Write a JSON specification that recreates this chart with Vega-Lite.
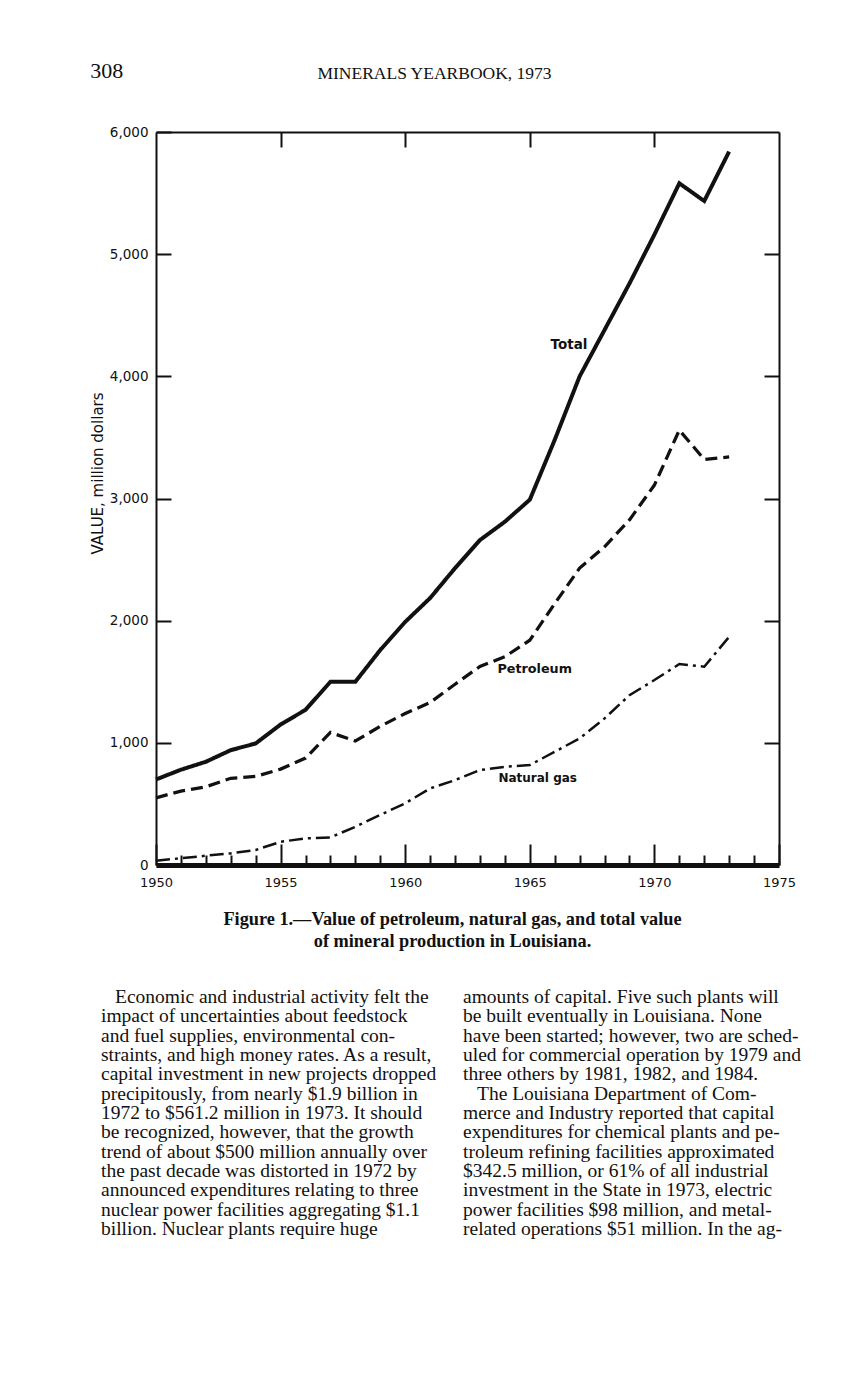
{
  "$schema": "https://vega.github.io/schema/vega-lite/v6.json",
  "background": "white",
  "padding": {"left": 90, "top": 60, "right": 0, "bottom": 0},
  "title": {"text": "308", "anchor": "start", "frame": "bounds", "font": "Liberation Serif", "fontSize": 22, "fontWeight": "normal", "color": "#111", "baseline": "alphabetic", "offset": -36},
  "bounds": "flush",
  "spacing": 132,
  "datasets": {
    "series": [
      {"series": "Total", "year": 1950, "value": 700},
      {"series": "Total", "year": 1951, "value": 780},
      {"series": "Total", "year": 1952, "value": 845},
      {"series": "Total", "year": 1953, "value": 940},
      {"series": "Total", "year": 1954, "value": 995},
      {"series": "Total", "year": 1955, "value": 1150},
      {"series": "Total", "year": 1956, "value": 1270},
      {"series": "Total", "year": 1957, "value": 1500},
      {"series": "Total", "year": 1958, "value": 1500},
      {"series": "Total", "year": 1959, "value": 1760},
      {"series": "Total", "year": 1960, "value": 1990},
      {"series": "Total", "year": 1961, "value": 2185},
      {"series": "Total", "year": 1962, "value": 2430},
      {"series": "Total", "year": 1963, "value": 2660},
      {"series": "Total", "year": 1964, "value": 2810},
      {"series": "Total", "year": 1965, "value": 2990},
      {"series": "Total", "year": 1966, "value": 3480},
      {"series": "Total", "year": 1967, "value": 4000},
      {"series": "Total", "year": 1968, "value": 4380},
      {"series": "Total", "year": 1969, "value": 4760},
      {"series": "Total", "year": 1970, "value": 5160},
      {"series": "Total", "year": 1971, "value": 5580},
      {"series": "Total", "year": 1972, "value": 5435},
      {"series": "Total", "year": 1973, "value": 5840},
      {"series": "Petroleum", "year": 1950, "value": 550},
      {"series": "Petroleum", "year": 1951, "value": 605},
      {"series": "Petroleum", "year": 1952, "value": 640},
      {"series": "Petroleum", "year": 1953, "value": 710},
      {"series": "Petroleum", "year": 1954, "value": 725},
      {"series": "Petroleum", "year": 1955, "value": 785},
      {"series": "Petroleum", "year": 1956, "value": 875},
      {"series": "Petroleum", "year": 1957, "value": 1085},
      {"series": "Petroleum", "year": 1958, "value": 1015},
      {"series": "Petroleum", "year": 1959, "value": 1135},
      {"series": "Petroleum", "year": 1960, "value": 1240},
      {"series": "Petroleum", "year": 1961, "value": 1330},
      {"series": "Petroleum", "year": 1962, "value": 1480},
      {"series": "Petroleum", "year": 1963, "value": 1625},
      {"series": "Petroleum", "year": 1964, "value": 1705},
      {"series": "Petroleum", "year": 1965, "value": 1840},
      {"series": "Petroleum", "year": 1966, "value": 2140},
      {"series": "Petroleum", "year": 1967, "value": 2430},
      {"series": "Petroleum", "year": 1968, "value": 2605},
      {"series": "Petroleum", "year": 1969, "value": 2825},
      {"series": "Petroleum", "year": 1970, "value": 3110},
      {"series": "Petroleum", "year": 1971, "value": 3560},
      {"series": "Petroleum", "year": 1972, "value": 3320},
      {"series": "Petroleum", "year": 1973, "value": 3340},
      {"series": "Natural gas", "year": 1950, "value": 35},
      {"series": "Natural gas", "year": 1951, "value": 55},
      {"series": "Natural gas", "year": 1952, "value": 76},
      {"series": "Natural gas", "year": 1953, "value": 95},
      {"series": "Natural gas", "year": 1954, "value": 123},
      {"series": "Natural gas", "year": 1955, "value": 190},
      {"series": "Natural gas", "year": 1956, "value": 218},
      {"series": "Natural gas", "year": 1957, "value": 226},
      {"series": "Natural gas", "year": 1958, "value": 313},
      {"series": "Natural gas", "year": 1959, "value": 410},
      {"series": "Natural gas", "year": 1960, "value": 505},
      {"series": "Natural gas", "year": 1961, "value": 627},
      {"series": "Natural gas", "year": 1962, "value": 695},
      {"series": "Natural gas", "year": 1963, "value": 777},
      {"series": "Natural gas", "year": 1964, "value": 804},
      {"series": "Natural gas", "year": 1965, "value": 818},
      {"series": "Natural gas", "year": 1966, "value": 927},
      {"series": "Natural gas", "year": 1967, "value": 1036},
      {"series": "Natural gas", "year": 1968, "value": 1200},
      {"series": "Natural gas", "year": 1969, "value": 1390},
      {"series": "Natural gas", "year": 1970, "value": 1514},
      {"series": "Natural gas", "year": 1971, "value": 1645},
      {"series": "Natural gas", "year": 1972, "value": 1623},
      {"series": "Natural gas", "year": 1973, "value": 1868}
    ],
    "labels": [
      {"label": "Total", "year": 1965.83, "value": 4256},
      {"label": "Petroleum", "year": 1963.7, "value": 1604},
      {"label": "Natural gas", "year": 1963.74, "value": 712}
    ],
    "body": [
      {"col": "L", "line": 1, "text": "Economic and industrial activity felt the"},
      {"col": "L", "line": 2, "text": "impact of uncertainties about feedstock"},
      {"col": "L", "line": 3, "text": "and fuel supplies, environmental con-"},
      {"col": "L", "line": 4, "text": "straints, and high money rates. As a result,"},
      {"col": "L", "line": 5, "text": "capital investment in new projects dropped"},
      {"col": "L", "line": 6, "text": "precipitously, from nearly $1.9 billion in"},
      {"col": "L", "line": 7, "text": "1972 to $561.2 million in 1973. It should"},
      {"col": "L", "line": 8, "text": "be recognized, however, that the growth"},
      {"col": "L", "line": 9, "text": "trend of about $500 million annually over"},
      {"col": "L", "line": 10, "text": "the past decade was distorted in 1972 by"},
      {"col": "L", "line": 11, "text": "announced expenditures relating to three"},
      {"col": "L", "line": 12, "text": "nuclear power facilities aggregating $1.1"},
      {"col": "L", "line": 13, "text": "billion. Nuclear plants require huge"},
      {"col": "R", "line": 1, "text": "amounts of capital. Five such plants will"},
      {"col": "R", "line": 2, "text": "be built eventually in Louisiana. None"},
      {"col": "R", "line": 3, "text": "have been started; however, two are sched-"},
      {"col": "R", "line": 4, "text": "uled for commercial operation by 1979 and"},
      {"col": "R", "line": 5, "text": "three others by 1981, 1982, and 1984."},
      {"col": "R", "line": 6, "text": "The Louisiana Department of Com-"},
      {"col": "R", "line": 7, "text": "merce and Industry reported that capital"},
      {"col": "R", "line": 8, "text": "expenditures for chemical plants and pe-"},
      {"col": "R", "line": 9, "text": "troleum refining facilities approximated"},
      {"col": "R", "line": 10, "text": "$342.5 million, or 61% of all industrial"},
      {"col": "R", "line": 11, "text": "investment in the State in 1973, electric"},
      {"col": "R", "line": 12, "text": "power facilities $98 million, and metal-"},
      {"col": "R", "line": 13, "text": "related operations $51 million. In the ag-"}
    ]
  },
  "vconcat": [
    {
      "width": 623,
      "height": 733,
      "layer": [
        {
          "data": {"name": "series"},
          "mark": {"type": "line", "color": "#111", "strokeCap": "butt", "strokeJoin": "miter"},
          "encoding": {
            "x": {
              "field": "year", "type": "quantitative",
              "scale": {"domain": [1950, 1975], "nice": false, "zero": false},
              "axis": {
                "orient": "bottom",
                "values": [1950, 1951, 1952, 1953, 1954, 1955, 1956, 1957, 1958, 1959, 1960, 1961, 1962, 1963, 1964, 1965, 1966, 1967, 1968, 1969, 1970, 1971, 1972, 1973, 1974, 1975],
                "format": "d",
                "labelExpr": "datum.value % 5 === 0 ? datum.label : ''",
                "labelFont": "DejaVu Sans", "labelFontSize": 13, "labelColor": "#111",
                "labelFlush": false, "labelOverlap": false, "labelPadding": 32,
                "tickSize": {"condition": {"test": "datum.value % 5 === 0", "value": -21}, "value": -10},
                "tickWidth": 2, "tickColor": "#111",
                "domainWidth": 5, "domainColor": "#111", "grid": false,
                "title": ["Figure 1.—Value of petroleum, natural gas, and total value", "of mineral production in Louisiana."],
                "titleFont": "Liberation Serif", "titleFontSize": 18.3, "titleFontWeight": "bold", "titleColor": "#111",
                "titlePadding": 10, "titleLineHeight": 22, "titleX": 296
              }
            },
            "y": {
              "field": "value", "type": "quantitative",
              "scale": {"domain": [0, 6000], "nice": false},
              "axis": {
                "orient": "left",
                "values": [0, 1000, 2000, 3000, 4000, 5000, 6000],
                "format": ",d",
                "labelFont": "DejaVu Sans", "labelFontSize": 13.5, "labelColor": "#111", "labelPadding": 23,
                "tickSize": -15, "tickWidth": 2, "tickColor": "#111",
                "domainWidth": 2, "domainColor": "#111", "grid": false,
                "title": "VALUE, million dollars",
                "titleFont": "DejaVu Sans", "titleFontSize": 15, "titleFontWeight": "normal", "titleColor": "#111",
                "titlePadding": 4, "titleY": 341
              }
            },
            "strokeDash": {"field": "series", "type": "nominal", "scale": {"domain": ["Total", "Petroleum", "Natural gas"], "range": [[1, 0], [12, 6], [14, 5, 3, 5]]}, "legend": null},
            "strokeWidth": {"field": "series", "type": "nominal", "scale": {"domain": ["Total", "Petroleum", "Natural gas"], "range": [4, 2.5, 2]}, "legend": null}
          }
        },
        {
          "data": {"name": "labels"},
          "mark": {"type": "text", "align": "left", "baseline": "middle", "font": "DejaVu Sans", "fontWeight": "bold", "color": "#111"},
          "encoding": {
            "x": {
              "field": "year", "type": "quantitative",
              "axis": {
                "orient": "top", "values": [1955, 1960, 1965, 1970], "labels": false,
                "tickSize": -15, "tickWidth": 2, "tickColor": "#111",
                "domainWidth": 2, "domainColor": "#111", "grid": false,
                "title": "MINERALS YEARBOOK, 1973",
                "titleFont": "Liberation Serif", "titleFontSize": 17.5, "titleFontWeight": "normal", "titleColor": "#111",
                "titlePadding": 49, "titleX": 278
              }
            },
            "y": {
              "field": "value", "type": "quantitative",
              "axis": {
                "orient": "right", "values": [1000, 2000, 3000, 4000, 5000], "labels": false,
                "tickSize": -15, "tickWidth": 2, "tickColor": "#111",
                "domainWidth": 2, "domainColor": "#111", "grid": false, "title": null
              }
            },
            "text": {"field": "label", "type": "nominal"},
            "size": {"field": "label", "type": "nominal", "scale": {"domain": ["Total", "Petroleum", "Natural gas"], "range": [13.5, 12, 12]}, "legend": null}
          }
        }
      ],
      "resolve": {"axis": {"x": "independent", "y": "independent"}}
    },
    {
      "width": 362,
      "height": 232,
      "data": {"name": "body"},
      "encoding": {
        "x": {"field": "col", "type": "nominal", "scale": {"type": "point", "padding": 0, "domain": ["L", "R"]}, "axis": null},
        "y": {"field": "line", "type": "ordinal", "scale": {"type": "point", "padding": 0, "domain": [1, 2, 3, 4, 5, 6, 7, 8, 9, 10, 11, 12, 13]}, "axis": null},
        "text": {"field": "text", "type": "nominal"}
      },
      "layer": [
        {
          "transform": [{"filter": "!((datum.col === 'L' && datum.line === 1) || (datum.col === 'R' && datum.line === 6))"}],
          "mark": {"type": "text", "align": "left", "baseline": "middle", "font": "Liberation Serif", "fontSize": 19.5, "color": "#111", "dx": -55}
        },
        {
          "transform": [{"filter": "(datum.col === 'L' && datum.line === 1) || (datum.col === 'R' && datum.line === 6)"}],
          "mark": {"type": "text", "align": "left", "baseline": "middle", "font": "Liberation Serif", "fontSize": 19.5, "color": "#111", "dx": -41}
        }
      ]
    }
  ],
  "config": {"view": {"stroke": null}}
}
